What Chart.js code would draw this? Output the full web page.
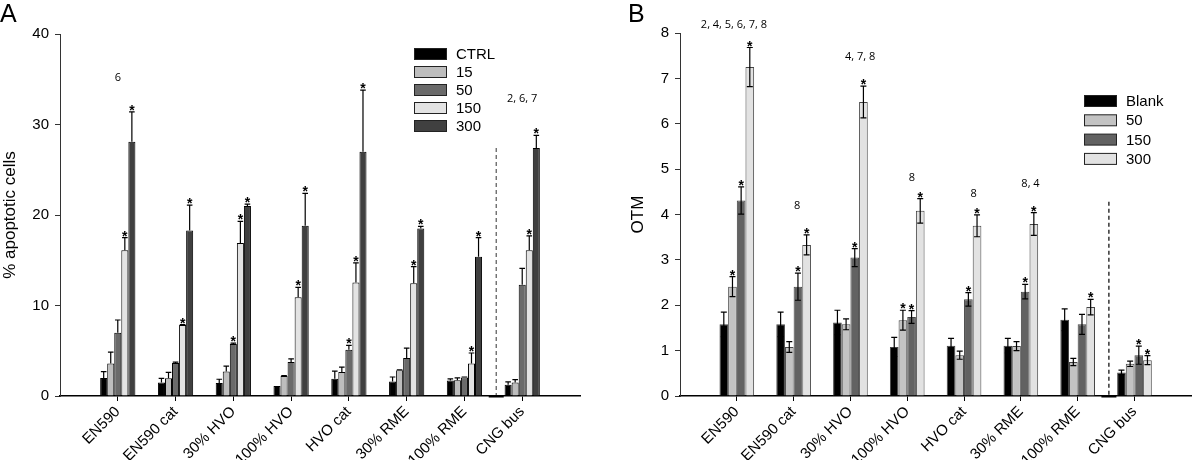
<!DOCTYPE html>
<html>
<head>
<meta charset="utf-8">
<script src="https://cdn.jsdelivr.net/npm/chart.js@4.4.1/dist/chart.umd.min.js"></script>
<style>
  html, body { margin: 0; padding: 0; background: #fff; overflow: hidden; }
  .panel { position: absolute; top: 0; height: 460px; overflow: hidden; }
  #wrapA { left: 0; width: 600px; }
  #wrapB { left: 600px; width: 600px; }
</style>
</head>
<body>
<div class="panel" id="wrapA"><canvas id="chartA"></canvas></div>
<div class="panel" id="wrapB"><canvas id="chartB"></canvas></div>
<script>
const fuels = ['EN590', 'EN590 cat', '30% HVO', '100% HVO', 'HVO cat', '30% RME', '100% RME', 'CNG bus'];

// Panel A - % apoptotic cells
const dosesA = ['CTRL', '15', '50', '150', '300'];
const ctrlA = [2.0, 1.5, 1.45, 1.1, 1.9, 1.6, 1.7, 1.25];
const d15A = [3.6, 1.95, 2.7, 2.2, 2.65, 2.85, 1.75, 1.5];
const d50A = [7.0, 3.65, 5.75, 3.75, 5.1, 4.2, 2.05, 12.3];
const d150A = [16.1, 7.85, 16.9, 10.9, 12.55, 12.45, 3.6, 16.1];
const d300A = [28.1, 18.3, 21.0, 18.8, 27.0, 18.5, 15.4, 27.4];
const ctrlErrA = [0.7, 0.45, 0.4, 0, 0.85, 0.5, 0.2, 0.3];
const d15ErrA = [1.25, 0.65, 0.6, 0.05, 0.55, 0.05, 0.25, 0.3];
const d50ErrA = [1.4, 0.1, 0.1, 0.35, 0.5, 1.1, 0.05, 1.8];
const d150ErrA = [1.4, 0.05, 2.4, 1.1, 2.15, 1.85, 1.15, 1.6];
const d300ErrA = [3.3, 2.8, 0.2, 3.6, 6.8, 0.25, 2.1, 1.4];
const sigA = [
  [0, 0, 0, 0, 0, 0, 0, 0],
  [0, 0, 0, 0, 0, 0, 0, 0],
  [0, 0, 1, 0, 1, 0, 0, 0],
  [1, 1, 1, 1, 1, 1, 1, 1],
  [1, 1, 1, 1, 1, 1, 1, 1]
];
const noteTextA = ['6', '2, 6, 7'];
const noteCatA = [0, 7];
const noteValA = [35.1, 32.8];

// Panel B - OTM
const dosesB = ['Blank', '50', '150', '300'];
const blankB = [1.58, 1.58, 1.62, 1.08, 1.11, 1.11, 1.68, 0.52];
const d50B = [2.41, 1.08, 1.58, 1.67, 0.9, 1.1, 0.75, 0.71];
const d150B = [4.31, 2.41, 3.05, 1.74, 2.13, 2.3, 1.58, 0.9];
const d300B = [7.25, 3.33, 6.48, 4.08, 3.75, 3.79, 1.96, 0.79];
const blankErrB = [0.27, 0.27, 0.27, 0.21, 0.16, 0.16, 0.24, 0.05];
const d50ErrB = [0.22, 0.12, 0.12, 0.22, 0.09, 0.1, 0.08, 0.06];
const d150ErrB = [0.3, 0.3, 0.2, 0.14, 0.15, 0.16, 0.22, 0.2];
const d300ErrB = [0.43, 0.22, 0.35, 0.27, 0.24, 0.25, 0.17, 0.1];
const sigB = [
  [0, 0, 0, 0, 0, 0, 0, 0],
  [1, 0, 0, 1, 0, 0, 0, 0],
  [1, 1, 1, 1, 1, 1, 0, 1],
  [1, 1, 1, 1, 1, 1, 1, 1]
];
const noteTextB = ['2, 4, 5, 6, 7, 8', '8', '4, 7, 8', '8', '8', '8, 4'];
const noteCatB = [0, 1, 2, 3, 4, 5];
const noteValB = [8.18, 4.2, 7.48, 4.8, 4.45, 4.67];
const noteShiftB = [-0.05, 0.06, 0.17, 0.08, 0.17, 0.17];

const coloursA = ['#000000', '#bdbdbd', '#6a6a6a', '#e3e3e3', '#404040'];
const coloursB = ['#000000', '#c3c3c3', '#626262', '#e2e2e2'];

// blank slot either side so the axis runs one category past the data
const padLabels = ['', ...fuels, ''];
const pad = arr => [null, ...arr, null];
const axisFont = { family: '"Liberation Sans", Arial, sans-serif', size: 15 };
const titleFont = { family: '"Liberation Sans", Arial, sans-serif', size: 17 };

function makeDecor(cfg) {
  return {
    id: 'decor' + cfg.name,
    afterDatasetsDraw(chart) {
      const ctx = chart.ctx;
      const xs = chart.scales.x, ys = chart.scales.y;
      ctx.save();
      ctx.strokeStyle = '#000';
      ctx.lineWidth = 1.2;
      chart.data.datasets.forEach((ds, i) => {
        const meta = chart.getDatasetMeta(i);
        ds.data.forEach((v, j) => {
          if (v == null) return;
          const bar = meta.data[j];
          const e = ds.errors[j];
          const yTop = ys.getPixelForValue(v + e);
          const yBot = ys.getPixelForValue(cfg.twoSided ? v - e : v);
          const cx = bar.x, cap = cfg.cap;
          if (e > 0) {
            ctx.beginPath();
            ctx.moveTo(cx, yBot); ctx.lineTo(cx, yTop);
            ctx.moveTo(cx - cap, yTop); ctx.lineTo(cx + cap, yTop);
            if (cfg.twoSided) { ctx.moveTo(cx - cap, yBot); ctx.lineTo(cx + cap, yBot); }
            ctx.stroke();
          }
          if (ds.sig[j]) {
            ctx.fillStyle = '#000';
            ctx.font = 'bold 14px "Liberation Sans", Arial, sans-serif';
            ctx.textAlign = 'center';
            ctx.textBaseline = 'alphabetic';
            ctx.fillText('*', cx, Math.min(yTop, bar.y) + 3);
          }
        });
      });

      // dashed divider before CNG bus
      const p7 = xs.getPixelForValue(7), p8 = xs.getPixelForValue(8);
      const dx = p7 + 0.55 * (p8 - p7);
      const y0 = ys.getPixelForValue(0);
      ctx.beginPath();
      ctx.setLineDash([4, 3]);
      ctx.strokeStyle = cfg.dashColour;
      ctx.lineWidth = 1.2;
      ctx.moveTo(dx, ys.getPixelForValue(cfg.dashTop));
      ctx.lineTo(dx, y0);
      ctx.stroke();
      ctx.setLineDash([]);
      ctx.fillStyle = '#000';
      ctx.fillRect(dx - 7.5, y0 - 1, 15, 2.5);

      // group annotations
      ctx.font = '11px "Open Sans", "Noto Sans", sans-serif';
      ctx.textAlign = 'center';
      ctx.textBaseline = 'middle';
      cfg.notes.forEach((t, k) => {
        const px = xs.getPixelForValue(cfg.noteCat[k] + 1 + (cfg.noteShift ? cfg.noteShift[k] : 0));
        ctx.fillText(t, px, ys.getPixelForValue(cfg.noteVal[k]));
      });
      ctx.restore();
    },
    afterDraw(chart) {
      const ctx = chart.ctx;
      ctx.save();
      ctx.fillStyle = '#000';
      ctx.font = '25px "Liberation Sans", Arial, sans-serif';
      ctx.textAlign = 'left';
      ctx.textBaseline = 'alphabetic';
      ctx.fillText(cfg.letter, cfg.letterX, 22);

      // legend
      ctx.font = '15px "Liberation Sans", Arial, sans-serif';
      ctx.textBaseline = 'middle';
      ctx.lineWidth = 1;
      cfg.legendLabels.forEach((lab, k) => {
        const cy = cfg.legendY + k * cfg.legendStep;
        ctx.fillStyle = cfg.colours[k];
        ctx.fillRect(cfg.legendX, cy - 5.5, 33, 11);
        ctx.strokeStyle = '#222';
        ctx.strokeRect(cfg.legendX + 0.5, cy - 5.5, 32, 11);
        ctx.fillStyle = '#000';
        ctx.fillText(lab, cfg.legendX + 42, cy + 1);
      });
      ctx.restore();
    }
  };
}

function buildOptions(yMax, step, yTitle, yWidth, titlePad, padding) {
  return {
    responsive: false,
    animation: false,
    layout: { padding },
    plugins: { legend: { display: false }, tooltip: { enabled: false } },
    scales: {
      x: {
        type: 'category',
        offset: false,
        grid: {
          offset: false,
          drawOnChartArea: false,
          tickLength: 5,
          color: c => (c.index === 0 || c.index === padLabels.length - 1) ? 'rgba(0,0,0,0)' : '#000'
        },
        border: { color: '#000', width: 1.5 },
        ticks: { autoSkip: false, maxRotation: 45, minRotation: 45, font: axisFont, color: '#000', padding: 2 },
        afterFit: s => { s.height = 64; }
      },
      y: {
        min: 0,
        max: yMax,
        ticks: { stepSize: step, font: axisFont, color: '#000', padding: 6 },
        grid: { drawOnChartArea: false, tickLength: 5, color: '#333' },
        border: { color: '#333', width: 1 },
        title: { display: true, text: yTitle, font: titleFont, color: '#000', padding: { top: titlePad, bottom: 0 } },
        afterFit: s => { s.width = yWidth; }
      }
    }
  };
}

const valuesA = [ctrlA, d15A, d50A, d150A, d300A];
const errorsA = [ctrlErrA, d15ErrA, d50ErrA, d150ErrA, d300ErrA];
const cvsA = document.getElementById('chartA');
cvsA.width = 600; cvsA.height = 460;
new Chart(cvsA, {
  type: 'bar',
  data: {
    labels: padLabels,
    datasets: dosesA.map((d, i) => ({
      label: d,
      data: pad(valuesA[i]),
      errors: pad(errorsA[i]),
      sig: pad(sigA[i]),
      backgroundColor: coloursA[i],
      borderColor: '#000',
      borderWidth: 1,
      categoryPercentage: 0.61,
      barPercentage: 1
    }))
  },
  options: buildOptions(40, 10, '% apoptotic cells', 60, 0, { top: 34, right: 20, left: 0, bottom: 0 }),
  plugins: [makeDecor({
    name: 'A', twoSided: false, cap: 2.8, dashTop: 27.4, dashColour: '#555',
    notes: noteTextA, noteCat: noteCatA, noteVal: noteValA,
    letter: 'A', letterX: 0,
    legendLabels: dosesA, colours: coloursA, legendX: 414, legendY: 54, legendStep: 18
  })]
});

const valuesB = [blankB, d50B, d150B, d300B];
const errorsB = [blankErrB, d50ErrB, d150ErrB, d300ErrB];
const cvsB = document.getElementById('chartB');
// canvas runs a few px past the page edge so the axis reaches x = 1199
cvsB.width = 606; cvsB.height = 460;
new Chart(cvsB, {
  type: 'bar',
  data: {
    labels: padLabels,
    datasets: dosesB.map((d, i) => ({
      label: d,
      data: pad(valuesB[i]),
      errors: pad(errorsB[i]),
      sig: pad(sigB[i]),
      backgroundColor: coloursB[i],
      borderColor: '#444',
      borderWidth: 1,
      categoryPercentage: 0.61,
      barPercentage: 1
    }))
  },
  options: buildOptions(8, 1, 'OTM', 80, 28, { top: 33, right: 0, left: 0, bottom: 0 }),
  plugins: [makeDecor({
    name: 'B', twoSided: true, cap: 3, dashTop: 4.28, dashColour: '#000',
    notes: noteTextB, noteCat: noteCatB, noteVal: noteValB, noteShift: noteShiftB,
    letter: 'B', letterX: 28,
    legendLabels: dosesB, colours: coloursB, legendX: 484, legendY: 101, legendStep: 19.3
  })]
});
</script>
</body>
</html>
